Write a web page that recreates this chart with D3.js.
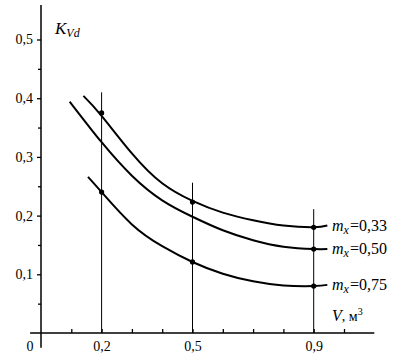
<!DOCTYPE html>
<meta charset="utf-8">
<title>K_Vd</title>
<style>
  body { margin: 0; background: #fff; }
  svg { display: block; font-family: "Liberation Serif", "DejaVu Serif", serif; }
</style>
<svg width="405" height="362"></svg>
<script src="https://d3js.org/d3.v7.min.js"></script>
<script>

// curves K_Vd(V) for three m_x values
var labels = ["0,33", "0,50", "0,75"];

var v033 = [0.14, 0.2, 0.3, 0.4, 0.5, 0.6, 0.7, 0.8, 0.9, 0.945];
var k033 = [0.404, 0.370, 0.306, 0.255, 0.225, 0.205, 0.192, 0.183, 0.180, 0.183];

var v050 = [0.095, 0.2, 0.3, 0.4, 0.5, 0.6, 0.7, 0.8, 0.9, 0.945];
var k050 = [0.394, 0.325, 0.268, 0.226, 0.198, 0.175, 0.158, 0.147, 0.143, 0.143];

var v075 = [0.155, 0.2, 0.3, 0.4, 0.5, 0.6, 0.7, 0.8, 0.9, 0.945];
var k075 = [0.266, 0.240, 0.185, 0.148, 0.121, 0.101, 0.088, 0.081, 0.080, 0.082];

// measured points
var ptV = [0.2, 0.2, 0.5, 0.5, 0.9, 0.9, 0.9];
var ptK = [0.375, 0.24, 0.223, 0.121, 0.18, 0.143, 0.08];

// vertical guide lines
var guideV = [0.2, 0.5, 0.9];
var guideTop = [0.41, 0.256, 0.211];

var xTicks = [0.1, 0.2, 0.3, 0.4, 0.5, 0.6, 0.7, 0.8, 0.9, 1.0];
var xLabels = [0.2, 0.5, 0.9];
var yMajor = [0.1, 0.2, 0.3, 0.4, 0.5];
var yMinor = [0.05, 0.15, 0.25, 0.35, 0.45];

var svg = d3.select("svg");

var x = d3.scaleLinear().domain([0, 1]).range([41, 344]);
var y = d3.scaleLinear().domain([0, 0.5]).range([333, 39.5]);

var fmt = function(d) { return d3.format(".1f")(d).replace(".", ","); };

// axis lines
svg.append("line")
    .attr("x1", x(0)).attr("x2", x(0))
    .attr("y1", y(-0.025)).attr("y2", 5)
    .attr("stroke", "#000").attr("stroke-width", 1.5);
svg.append("line")
    .attr("x1", x(-0.036)).attr("x2", x(1.1))
    .attr("y1", y(0)).attr("y2", y(0))
    .attr("stroke", "#000").attr("stroke-width", 1.5);

// y axis ticks
var yAx = svg.append("g")
    .attr("transform", "translate(" + x(0) + ",0)")
    .call(d3.axisLeft(y).tickValues(yMajor).tickSize(4).tickPadding(4).tickFormat(fmt));
yAx.attr("font-family", "Liberation Serif").attr("font-size", 14);
yAx.select(".domain").remove();
yAx.selectAll("line").attr("stroke-width", 1.3);

var yMin = svg.append("g")
    .attr("transform", "translate(" + x(0) + ",0)")
    .call(d3.axisLeft(y).tickValues(yMinor).tickSize(3).tickFormat(""));
yMin.select(".domain").remove();
yMin.selectAll("line").attr("stroke-width", 1.3);

// x axis ticks (pointing up), labels below
var xAx = svg.append("g")
    .attr("transform", "translate(0," + y(0) + ")")
    .call(d3.axisBottom(x).tickValues(xTicks).tickSize(-4).tickPadding(8)
        .tickFormat(function(d) { return xLabels.indexOf(d) >= 0 ? fmt(d) : ""; }));
xAx.attr("font-family", "Liberation Serif").attr("font-size", 14);
xAx.select(".domain").remove();
xAx.selectAll("line").attr("stroke-width", 1.3);

svg.append("text")
    .attr("x", 30).attr("y", y(0) + 18)
    .attr("text-anchor", "middle")
    .attr("font-size", 14)
    .text("0");

// vertical guides
svg.append("g").selectAll("line")
    .data(guideV)
    .enter().append("line")
    .attr("x1", function(d) { return x(d); })
    .attr("x2", function(d) { return x(d); })
    .attr("y1", y(0))
    .attr("y2", function(d, i) { return y(guideTop[i]); })
    .attr("stroke", "#000").attr("stroke-width", 1);

// curves
var series = [
  { v: v033, k: k033 },
  { v: v050, k: k050 },
  { v: v075, k: k075 }
];

var line = d3.line()
    .x(function(d) { return x(d[0]); })
    .y(function(d) { return y(d[1]); })
    .curve(d3.curveNatural);

svg.append("g").selectAll("path")
    .data(series)
    .enter().append("path")
    .attr("d", function(s) { return line(s.v.map(function(v, i) { return [v, s.k[i]]; })); })
    .attr("fill", "none")
    .attr("stroke", "#000")
    .attr("stroke-width", 2);

// points
svg.append("g").selectAll("circle")
    .data(ptV)
    .enter().append("circle")
    .attr("cx", function(d) { return x(d); })
    .attr("cy", function(d, i) { return y(ptK[i]); })
    .attr("r", 2.6)
    .attr("fill", "#000");

// series labels
series.forEach(function(s, i) {
  var last = s.k[s.k.length - 1];
  var t = svg.append("text")
      .attr("x", 332)
      .attr("y", y(last) + 5)
      .attr("font-size", 16);
  t.append("tspan").attr("font-style", "italic").text("m");
  t.append("tspan").attr("font-style", "italic").attr("font-size", 12).attr("dy", 3).text("x");
  t.append("tspan").attr("dy", -3).attr("dx", 1).text("=" + labels[i]);
});

// axis titles
var ky = svg.append("text").attr("x", 55).attr("y", 34).attr("font-size", 17);
ky.append("tspan").attr("font-style", "italic").text("K");
ky.append("tspan").attr("font-style", "italic").attr("font-size", 12).attr("dy", 3).text("Vd");

var vx = svg.append("text").attr("x", 332).attr("y", 321).attr("font-size", 16);
vx.append("tspan").attr("font-style", "italic").text("V");
vx.append("tspan").attr("font-size", 14).text(", м");
vx.append("tspan").attr("font-size", 10).attr("dy", -6).text("3");

</script>
